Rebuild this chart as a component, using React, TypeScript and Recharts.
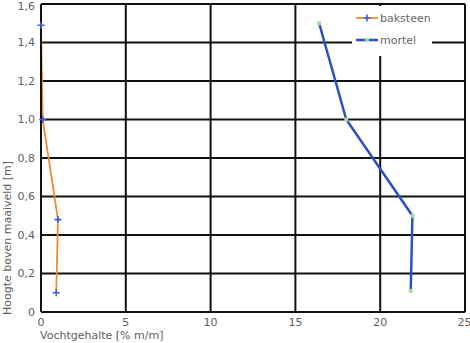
import { CartesianGrid, Label, Legend, Line, LineChart, XAxis, YAxis } from 'recharts';

// baksteen: vochtgehalte (x) bij hoogte (y)
const baksteenX = [0, 0.1, 1.0, 0.9];
const baksteenY = [1.49, 1.0, 0.48, 0.1];

// mortel
const mortelX = [16.4, 18.0, 21.9, 21.8];
const mortelY = [1.5, 1.0, 0.5, 0.11];

const xTicks = [0, 5, 10, 15, 20, 25];
const yTicks = [0, 0.2, 0.4, 0.6, 0.8, 1.0, 1.2, 1.4, 1.6];

const seriesNames = ['baksteen', 'mortel'];

const ORANGE = '#f28a33';
const BLUE = '#2d4fc4';
const CROSS_BLUE = '#3a5fd8';
const GREEN = '#a9dba0';
const FONT = '"DejaVu Sans", Verdana, sans-serif';

const toRows = (xs: number[], ys: number[]) => xs.map((x, i) => ({ x, y: ys[i] }));

const baksteen = toRows(baksteenX, baksteenY);
const mortel = toRows(mortelX, mortelY);

const fmtY = (v: number) => (v === 0 ? '0' : v.toFixed(1).replace('.', ','));

const CrossDot = (props: any) => {
  const { cx, cy } = props;
  if (cx == null || cy == null) return null;
  return (
    <path
      d={`M${cx - 3.5},${cy}L${cx + 3.5},${cy}M${cx},${cy - 3.5}L${cx},${cy + 3.5}`}
      stroke={CROSS_BLUE}
      strokeWidth={1.6}
    />
  );
};

const SquareDot = (props: any) => {
  const { cx, cy } = props;
  if (cx == null || cy == null) return null;
  return <rect x={cx - 2} y={cy - 2} width={4} height={4} fill={GREEN} />;
};

const LegendBox = () => (
  <div
    style={{
      background: '#fff',
      fontFamily: FONT,
      fontSize: 11,
      color: '#666',
      padding: '2px 0 4px 4px',
      lineHeight: '27px',
    }}
  >
    {seriesNames.map((name, i) => (
      <div key={name} style={{ display: 'flex', alignItems: 'center', height: i === 0 ? 20 : 24 }}>
        <svg width={22} height={8} style={{ marginRight: 2 }}>
          <line x1={0} y1={4} x2={22} y2={4} stroke={i === 0 ? ORANGE : BLUE} strokeWidth={i === 0 ? 1.8 : 2.5} />
          {i === 0 ? (
            <path d="M11,0.5L11,7.5M7.5,4L14.5,4" stroke={CROSS_BLUE} strokeWidth={1.6} />
          ) : (
            <rect x={9} y={2} width={4} height={4} fill={GREEN} />
          )}
        </svg>
        <span>{name}</span>
      </div>
    ))}
  </div>
);

export default function App() {
  return (
    <div style={{ position: 'absolute', left: 0, top: 0, background: '#fff' }}>
      <LineChart width={470} height={343} margin={{ top: 4, right: 5, left: 0, bottom: 0 }}>
        <CartesianGrid stroke="#111" strokeWidth={2} />
        <XAxis
          type="number"
          dataKey="x"
          domain={[0, 25]}
          ticks={xTicks}
          height={31}
          tickLine={false}
          tickMargin={0}
          axisLine={{ stroke: '#111', strokeWidth: 2 }}
          tick={{ fill: '#606060', fontSize: 11, fontFamily: FONT }}
        >
          <Label
            content={() => (
              <text x={40} y={339} fill="#606060" fontSize={11} fontFamily={FONT}>
                Vochtgehalte [% m/m]
              </text>
            )}
          />
        </XAxis>
        <YAxis
          type="number"
          dataKey="y"
          domain={[0, 1.6]}
          ticks={yTicks}
          width={41}
          tickLine={false}
          tickMargin={0}
          tickFormatter={fmtY}
          axisLine={{ stroke: '#111', strokeWidth: 2 }}
          tick={{ fill: '#606060', fontSize: 11, fontFamily: FONT }}
        >
          <Label
            content={() => (
              <text
                x={11}
                y={238}
                transform="rotate(-90 11 238)"
                textAnchor="middle"
                fill="#606060"
                fontSize={11}
                fontFamily={FONT}
              >
                Hoogte boven maaiveld [m]
              </text>
            )}
          />
        </YAxis>
        <Legend
          layout="horizontal"
          verticalAlign="middle"
          align="center"
          content={() => <LegendBox />}
          wrapperStyle={{ position: 'absolute', top: 6, left: 352, width: 80 }}
        />
        <Line
          data={baksteen}
          dataKey="y"
          name="baksteen"
          stroke={ORANGE}
          strokeWidth={1.8}
          dot={<CrossDot />}
          activeDot={false}
          isAnimationActive={false}
        />
        <Line
          data={mortel}
          dataKey="y"
          name="mortel"
          stroke={BLUE}
          strokeWidth={2.5}
          dot={<SquareDot />}
          activeDot={false}
          isAnimationActive={false}
        />
      </LineChart>
    </div>
  );
}
